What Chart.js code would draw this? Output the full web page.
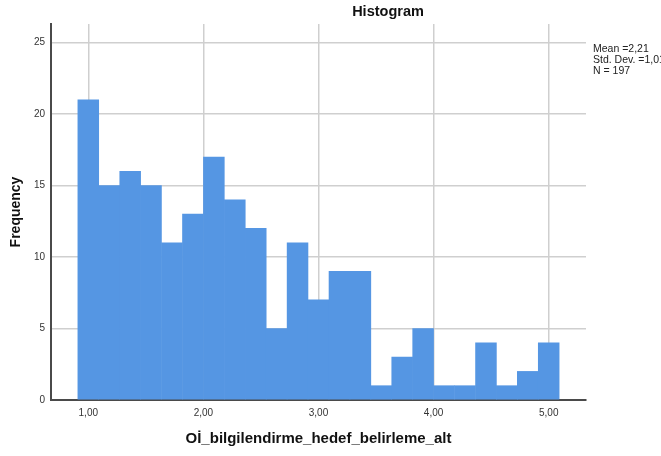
<!DOCTYPE html>
<html>
<head>
<meta charset="utf-8">
<script src="https://cdn.jsdelivr.net/npm/chart.js@4"></script>
<style>
  body { margin: 0; background: #fff; }
  #wrap { width: 661px; height: 456px; }
</style>
</head>
<body>
<div id="wrap"><canvas id="hist" width="661" height="456"></canvas></div>
<script>
// Bin midpoints (width 4/22) and counts
const binCenters = [1.000, 1.182, 1.364, 1.545, 1.727, 1.909, 2.091, 2.273, 2.455, 2.636, 2.818, 3.000,
                    3.182, 3.364, 3.545, 3.727, 3.909, 4.091, 4.273, 4.455, 4.636, 4.818, 5.000];
const frequencies = [21, 15, 16, 15, 11, 13, 17, 14, 12, 5, 11, 7, 9, 9, 1, 3, 5, 1, 1, 4, 1, 2, 4];
const xTicks = [1, 2, 3, 4, 5];
const yTicks = [0, 5, 10, 15, 20, 25];
const statsLines = ['Mean =2,21', 'Std. Dev. =1,01', 'N = 197'];
const chartTitle = 'Histogram';
const xTitle = 'Oİ_bilgilendirme_hedef_belirleme_alt';
const yTitle = 'Frequency';

const FONT = '"Liberation Sans", Arial, sans-serif';

// Title and stats box drawn as text on the canvas
const annotations = {
    id: 'annotations',
    afterDraw(chart) {
        const ctx = chart.ctx;
        ctx.save();
        ctx.fillStyle = '#111';
        ctx.font = 'bold 14.5px ' + FONT;
        ctx.textAlign = 'center';
        ctx.textBaseline = 'middle';
        ctx.fillText(chartTitle, 388, 12);

        ctx.font = '10.5px ' + FONT;
        ctx.fillStyle = '#222';
        ctx.textAlign = 'left';
        statsLines.forEach((line, i) => {
            ctx.fillText(line, 593, 49 + i * 11);
        });
        ctx.restore();
    }
};

const ctx = document.getElementById('hist').getContext('2d');
new Chart(ctx, {
    type: 'bar',
    data: {
        datasets: [{
            label: yTitle,
            data: binCenters.map((c, i) => ({ x: c, y: frequencies[i] })),
            backgroundColor: '#5596e3',
            borderWidth: 0,
            barPercentage: 1,
            categoryPercentage: 1,
            grouped: false
        }]
    },
    options: {
        responsive: false,
        animation: false,
        layout: { padding: { top: 24, right: 75, left: 0, bottom: 0 } },
        plugins: {
            legend: { display: false },
            tooltip: { enabled: false },
            title: { display: false }
        },
        scales: {
            x: {
                type: 'linear',
                min: 0.676,
                max: 5.324,
                offset: false,
                afterBuildTicks: (scale) => { scale.ticks = xTicks.map(v => ({ value: v })); },
                afterFit: (scale) => { scale.height = 56; },
                grid: { color: '#cfcfcf', lineWidth: 1.5, drawTicks: false, offset: false },
                border: { color: '#4a4a4a', width: 2 },
                ticks: {
                    padding: 7,
                    color: '#333',
                    font: { family: FONT, size: 10 },
                    callback: (v) => v.toFixed(2).replace('.', ',')
                },
                title: {
                    display: true,
                    text: xTitle,
                    color: '#111',
                    font: { family: FONT, size: 15, weight: 'bold' },
                    padding: { top: 0, bottom: 8 }
                }
            },
            y: {
                min: 0,
                max: 26.3,
                afterBuildTicks: (scale) => { scale.ticks = yTicks.map(v => ({ value: v })); },
                afterFit: (scale) => { scale.width = 51; },
                grid: { color: '#cfcfcf', lineWidth: 1.5, drawTicks: false },
                border: { color: '#4a4a4a', width: 2 },
                ticks: {
                    padding: 6,
                    color: '#333',
                    font: { family: FONT, size: 10 }
                },
                title: {
                    display: true,
                    text: yTitle,
                    color: '#111',
                    font: { family: FONT, size: 14, weight: 'bold' },
                    padding: { top: 8, bottom: 0 }
                }
            }
        }
    },
    plugins: [annotations]
});
</script>
</body>
</html>
